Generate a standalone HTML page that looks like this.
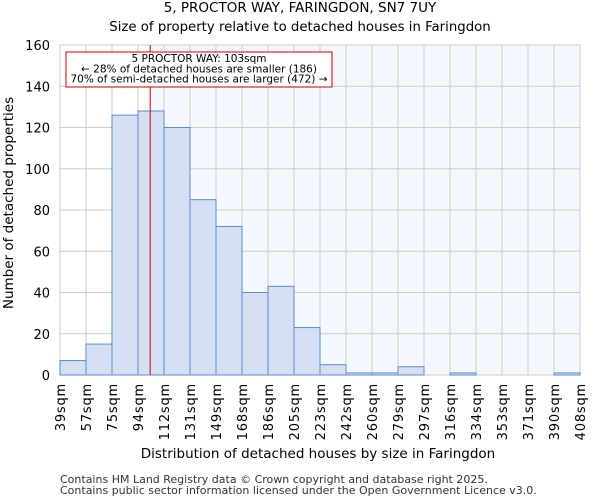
<!DOCTYPE html>
<html><head><meta charset="utf-8"><style>
body{margin:0;background:#fff;font-family:"DejaVu Sans","Liberation Sans",sans-serif;}
</style></head><body>
<svg id="c" width="600" height="500" xmlns="http://www.w3.org/2000/svg" font-family="DejaVu Sans, Liberation Sans, sans-serif">
<text x="300" y="12" text-anchor="middle" font-size="13.5">5, PROCTOR WAY, FARINGDON, SN7 7UY</text>
<text x="300" y="31" text-anchor="middle" font-size="13.3">Size of property relative to detached houses in Faringdon</text>
<g id="plot"></g>
<text x="318" y="458" text-anchor="middle" font-size="13.5">Distribution of detached houses by size in Faringdon</text>
<text transform="translate(13,203) rotate(-90)" text-anchor="middle" font-size="13.5">Number of detached properties</text>
<text x="60" y="483" font-size="11" fill="#333">Contains HM Land Registry data © Crown copyright and database right 2025.</text>
<text x="60" y="494" font-size="11" fill="#333">Contains public sector information licensed under the Open Government Licence v3.0.</text>
</svg>
<script>
const tickLabels=["39sqm","57sqm","75sqm","94sqm","112sqm","131sqm","149sqm","168sqm","186sqm","205sqm","223sqm","242sqm","260sqm","279sqm","297sqm","316sqm","334sqm","353sqm","371sqm","390sqm","408sqm"];
const counts=[7,15,126,128,120,85,72,40,43,23,5,1,1,4,0,1,0,0,0,1];
const yTicks=[0,20,40,60,80,100,120,140,160];
const propertySize=103;
const xMin=39,xMax=408;
const X0=60,X1=580,Y0=375,Y1=45;
const ns="http://www.w3.org/2000/svg";
const g=document.getElementById('plot');
function xs(v){return X0+(v-xMin)/(xMax-xMin)*(X1-X0);}
function ys(v){return Y0-(v/160)*(Y0-Y1);}
function mk(t,a){const e=document.createElementNS(ns,t);for(const k in a)e.setAttribute(k,a[k]);g.appendChild(e);return e;}
const px=xs(propertySize);
let e=mk('rect',{x:px,y:Y1,width:X1-px,height:Y0-Y1,fill:'#f4f7fd'});


const n=counts.length,bw=(X1-X0)/n;
for(let i=0;i<=n;i++){const x=X0+i*bw;
e=mk('line',{x1:x,x2:x,y1:Y1,y2:Y0,stroke:'#ccc','stroke-width':1});


e=mk('text',{transform:`translate(${x+5},${Y0+8}) rotate(-90)`,'text-anchor':'end','font-size':13,'letter-spacing':'0.8'});
e.textContent=tickLabels[i];

}
yTicks.forEach(v=>{const y=ys(v);
e=mk('line',{x1:X0,x2:X1,y1:y,y2:y,stroke:'#ccc','stroke-width':1});


e=mk('text',{x:X0-10,y:y+5,'text-anchor':'end','font-size':13});
e.textContent=v;

});
counts.forEach((c,i)=>{const x=X0+i*bw;
e=mk('rect',{x:x,y:ys(c),width:bw,height:Y0-ys(c),fill:'#d6e0f3',stroke:'#5a8ad6','stroke-width':1});

});
e=mk('line',{x1:px,x2:px,y1:Y1,y2:Y0,stroke:'#cc0000','stroke-width':1});


e=mk('rect',{x:66,y:52,width:266,height:35,fill:'#fff',stroke:'#cc0000','stroke-width':1});


["5 PROCTOR WAY: 103sqm","← 28% of detached houses are smaller (186)","70% of semi-detached houses are larger (472) →"].forEach((t,i)=>{
e=mk('text',{x:199,y:62+i*10.3,'text-anchor':'middle','font-size':10.5});
e.textContent=t;

});
</script>
</body></html>
